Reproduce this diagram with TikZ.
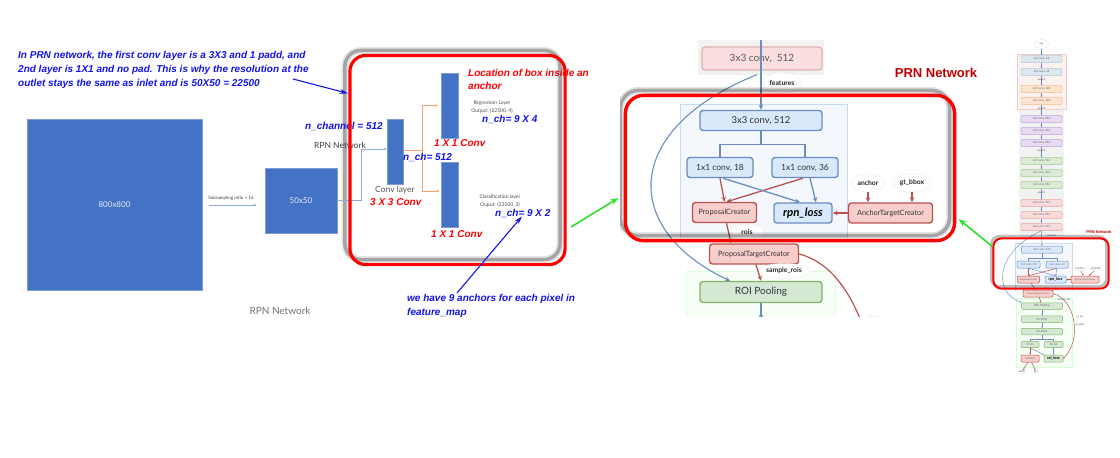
\documentclass[tikz,border=0pt]{standalone}
\usepackage{fontspec}
\setmainfont{Lato}
\newfontfamily\annfont{Liberation Sans}
\usetikzlibrary{arrows.meta,calc,shapes.geometric}

\definecolor{sqblue}{HTML}{4472C4}
\definecolor{annblue}{HTML}{1414E6}
\definecolor{annred}{HTML}{FF0000}
\definecolor{orng}{HTML}{F4A46A}
\definecolor{feedline}{HTML}{8FAADC}
\definecolor{dioRedF}{HTML}{F8CECC}
\definecolor{dioRedD}{HTML}{B85450}
\definecolor{dioBlueF}{HTML}{DAE8FC}
\definecolor{dioBlueD}{HTML}{6C8EBF}
\definecolor{dioGreenF}{HTML}{D5E8D4}
\definecolor{dioGreenD}{HTML}{82B366}
\definecolor{limeg}{HTML}{2EE02E}
\definecolor{prnred}{HTML}{C00000}
\definecolor{paleblue}{HTML}{F4F8FD}
\definecolor{palebluel}{HTML}{C9D9EE}
\definecolor{tbAf}{HTML}{DDE8EE}\definecolor{tbAd}{HTML}{B0CAD8}
\definecolor{tbBf}{HTML}{FCE4CF}\definecolor{tbBd}{HTML}{F0BE94}
\definecolor{tbCf}{HTML}{E8DAF2}\definecolor{tbCd}{HTML}{BFA4D8}
\definecolor{tbDf}{HTML}{DCEBD6}\definecolor{tbDd}{HTML}{A5CC94}
\definecolor{tbEf}{HTML}{F9DCDA}\definecolor{tbEd}{HTML}{E8A8A4}

\begin{document}
\begin{tikzpicture}[x=1pt,y=-1pt,
  note/.style={font=\annfont\bfseries\itshape\fontsize{10}{14}\selectfont, text=annblue, align=left, inner sep=0pt},
  rnote/.style={note, text=annred},
  annarrow/.style={draw=annblue, line width=1.1pt, -{Stealth[length=8pt,width=5pt]}},
  grnarrow/.style={draw=limeg, line width=1.6pt, -{Stealth[length=8pt,width=6pt]}},
  sq/.style={fill=sqblue, draw=sqblue!70!white, line width=0.5pt, text=white!85!sqblue, font=\fontsize{8}{9}\selectfont, inner sep=0pt},
  bar/.style={fill=sqblue, draw=sqblue!70!white, line width=0.4pt, inner sep=0pt},
  redframe/.style={draw=red, line width=3.2pt, rounded corners=16pt, inner sep=0pt},
  shadowA/.style={draw=black, line width=7pt, opacity=0.1},
  shadowB/.style={draw=black, line width=3.5pt, opacity=0.28},
  dbox/.style={rounded corners=3pt, line width=1.4pt, inner sep=0pt, text=black!80},
  bluebox/.style={dbox, fill=dioBlueF, draw=dioBlueD},
  pinkbox/.style={dbox, fill=dioRedF, draw=dioRedD},
  greenbox/.style={dbox, fill=dioGreenF, draw=dioGreenD},
  lbl/.style={ellipse, draw=black!7, fill=white, inner sep=0.5pt, font=\fontsize{6.8}{8}\selectfont\bfseries, text=black!85},
  barrow/.style={draw=dioBlueD, line width=1.3pt, -{Stealth[length=5pt,width=4.5pt]}},
  rarrow/.style={draw=dioRedD, line width=1.3pt, -{Stealth[length=5pt,width=4.5pt]}},
  tb/.style={rounded corners=1pt, line width=0.5pt, inner sep=0pt, minimum height=7pt, minimum width=41pt, font=\fontsize{2.8}{3}\selectfont, text=black!60},
  tbA/.style={fill=tbAf, draw=tbAd}, tbB/.style={fill=tbBf, draw=tbBd},
  tbC/.style={fill=tbCf, draw=tbCd}, tbD/.style={fill=tbDf, draw=tbDd},
  tbE/.style={fill=tbEf, draw=tbEd},
  tbl/.style={tb, fill=dioBlueF, draw=dioBlueD},
  tpk/.style={tb, fill=dioRedF, draw=dioRedD},
  tgr/.style={tb, fill=dioGreenF, draw=dioGreenD},
  tlbl/.style={font=\fontsize{2.5}{3}\selectfont, text=black!70, inner sep=0.3pt},
  tell/.style={tlbl, ellipse, draw=black!10, fill=white},
  tarr/.style={draw=dioBlueD, line width=0.45pt, -{Stealth[length=1.6pt,width=1.6pt]}},
  trarr/.style={draw=dioRedD, line width=0.5pt, -{Stealth[length=1.6pt,width=1.6pt]}},
  tline/.style={draw=dioBlueD, line width=0.45pt}
]
\useasboundingbox (0,0) rectangle (1120,458);
\fill[white] (0,0) rectangle (1120,458);

% ---------------- left: feature map sizes ----------------
\node[sq, minimum width=175pt, minimum height=171pt] (big) at (114.5,204.5) {800x800};
\node[sq, minimum width=72pt, minimum height=65pt] (small) at (301,200.5) {50x50};
\node[font=\fontsize{4.5}{5}\selectfont, text=black!75, inner sep=0pt] (subs) at (231,198) {Subsampling ratio = 16};
\draw[draw=feedline, line width=0.7pt, -{Stealth[length=3pt,width=2.5pt]}]
  ($(big.east)+(7,0.5)$) -- ($(small.west)+(-8,4.5)$);
\node[font=\fontsize{10}{12}\selectfont, text=black!55] (rpnbot) at (280,311) {RPN Network};

% ---------------- middle: RPN head ----------------
\node[redframe, minimum width=212pt, minimum height=206pt, draw=none] (rb1) at (457.5,160) {};
\begin{scope}[rounded corners=16pt]
\draw[shadowA] ($(rb1.north west)+(-5,-5)$) rectangle ($(rb1.south east)+(-5,-5)$);
\draw[shadowB] ($(rb1.north west)+(-5,-5)$) rectangle ($(rb1.south east)+(-5,-5)$);
\end{scope}
\fill[white, rounded corners=14pt] ($(rb1.north west)+(2,2)$) rectangle ($(rb1.south east)+(-9,-9)$);

\node[font=\fontsize{8.5}{10}\selectfont, text=black!75, inner sep=0pt] (rpnin) at (340,145) {RPN Network};
\node[bar, minimum width=16pt, minimum height=65pt] (conv) at (395,151.5) {};
\node[bar, minimum width=17pt, minimum height=65pt] (up) at (449.5,105.5) {};
\node[bar, minimum width=17pt, minimum height=65pt] (low) at (449.5,194.5) {};
\draw[draw=feedline, line width=0.7pt, -{Stealth[length=3pt,width=2.5pt]}]
  (small.east) -- ++(24,0) |- ($(conv.west)+(0,-2.5)$);
\coordinate (jn) at (422,150);
\draw[draw=orng, line width=0.8pt] ($(conv.east)+(0,-1.5)$) -- (jn);
\draw[draw=orng, line width=0.8pt, -{Stealth[length=3pt,width=2.5pt]}, shorten >=3pt] (jn) |- (up.west);
\draw[draw=orng, line width=0.8pt, -{Stealth[length=3pt,width=2.5pt]}, shorten >=1pt] (jn) |- ($(low.west)+(0,-3.5)$);

\node[font=\fontsize{8.5}{10}\selectfont, text=black!65, inner sep=0pt] (convl) at (395,190) {Conv layer};
\node[rnote, anchor=west] (k33) at (370,202) {3 X 3 Conv};
\node[rnote, anchor=west] (k11a) at (434,143) {1 X 1 Conv};
\node[rnote, anchor=west] (k11b) at (431,234) {1 X 1 Conv};
\node[note, anchor=west] (nchan) at (305,126) {n\_channel = 512};
\node[note, anchor=west] (nch512) at (403,157) {n\_ch= 512};
\node[note, anchor=west] (nch94) at (482,119) {n\_ch= 9 X 4};
\node[note, anchor=west] (nch92) at (495,213) {n\_ch= 9 X 2};
\node[font=\fontsize{5}{8}\selectfont, text=black!70, align=center, inner sep=0pt] (regl) at (492,107) {Regression Layer\\Output: (22500, 4)};
\node[font=\fontsize{5}{8}\selectfont, text=black!70, align=center, inner sep=0pt] (clsl) at (500,201) {Classification layer\\Ouput: (22500, 2)};
\node[rnote, anchor=north west, font=\annfont\bfseries\itshape\fontsize{10}{13}\selectfont] (loc) at (468,69.5) {Location of box inside an\\anchor};

\draw[draw=red, line width=3.2pt, rounded corners=16pt] (rb1.north west) rectangle (rb1.south east);

% notes around the RPN head
\node[note, anchor=north west] (n1) at (18,51) {In PRN network, the first conv layer is a 3X3 and 1 padd, and\\2nd layer is 1X1 and no pad. This is why the resolution at the\\outlet stays the same as inlet and is 50X50 = 22500};
\coordinate (a1s) at (293,79);
\draw[annarrow] (a1s) -- ($(rb1.north west)+(-2,38)$);
\node[note, anchor=north west] (n2) at (407,294.5) {we have 9 anchors for each pixel in\\feature\_map};
\coordinate (a2s) at (457,293);
\draw[annarrow] (a2s) -- ($(nch92.south)+(-1,-1)$);

% ---------------- centre: Faster R-CNN detail ----------------
\begin{scope}
\clip (620,40) rectangle (960,316);
\fill[black!5] (698,40) rectangle (824,75);
\node[dbox, fill=dioRedF!65, draw=dioRedD!45, line width=1.2pt, text=black!65, minimum width=120pt, minimum height=23pt, font=\fontsize{10}{12}\selectfont] (topconv) at (762,58.5) {3x3 conv,~~512};
\fill[paleblue] (680,104) rectangle (847,238);
\draw[palebluel, line width=0.8pt] (680,238) -- (680,104) -- (847,104) -- (847,238);
\fill[green!3] (686,271) rectangle (835,330);
\draw[green!14, line width=0.8pt] (686,330) -- (686,271) -- (835,271) -- (835,330);

\node[lbl, minimum width=40pt, minimum height=20pt] (feat) at (782,83) {features};
\node[bluebox, minimum width=122pt, minimum height=20pt, font=\fontsize{9.5}{11}\selectfont] (c512) at (761,120.5) {3x3 conv, 512};
\node[bluebox, minimum width=66pt, minimum height=20pt, font=\fontsize{8.5}{10}\selectfont] (c18) at (720,167.5) {1x1 conv, 18};
\node[bluebox, minimum width=66pt, minimum height=20pt, font=\fontsize{8.5}{10}\selectfont] (c36) at (805,167.5) {1x1 conv, 36};
\node[pinkbox, minimum width=64pt, minimum height=20pt, font=\fontsize{7.3}{9}\selectfont] (pc) at (724.5,212.5) {ProposalCreator};
\node[bluebox, minimum width=58pt, minimum height=20pt, font=\fontsize{11.5}{13}\selectfont\bfseries\itshape, text=black] (rpn) at (803,213) {rpn\_loss};
\node[pinkbox, minimum width=84pt, minimum height=20pt, font=\fontsize{7.3}{9}\selectfont] (atc) at (890.5,213) {AnchorTargetCreator};
\node[lbl, minimum width=34pt, minimum height=18pt] (anc) at (868,183) {anchor};
\node[lbl, minimum width=38pt, minimum height=18pt] (gtb) at (912,183) {gt\_bbox};
\node[lbl, minimum width=34pt, minimum height=15pt] (rois) at (747,232) {rois};
\node[pinkbox, minimum width=89pt, minimum height=20pt, font=\fontsize{7.3}{9}\selectfont] (ptc) at (754,254) {ProposalTargetCreator};
\node[lbl, minimum width=52pt, minimum height=15pt] (srois) at (784,271) {sample\_rois};
\node[greenbox, minimum width=122pt, minimum height=21pt, font=\fontsize{10}{12}\selectfont] (roi) at (761,292) {ROI Pooling};
\node[ellipse, draw=dioBlueD!25, fill=white, minimum width=30pt, minimum height=22pt] (gtl) at (874,327) {};

\coordinate (vtop) at (761,38);
\draw[barrow, line width=1.1pt] (vtop) -- (c512.north);
\draw[draw=dioBlueD, line width=1.2pt] (c512.south) -- ++(0,13) -| (c18.north);
\draw[draw=dioBlueD, line width=1.2pt] (c512.south) -- ++(0,13) -| (c36.north);
\draw[rarrow] (c18.south) -- (pc.north);
\draw[rarrow] ($(c36.south)+(-2,0)$) -- ($(pc.north)+(2,0)$);
\draw[barrow] ($(c18.south)+(3,0)$) -- ($(rpn.north)+(-3,0)$);
\draw[barrow] ($(c36.south)+(5,0)$) -- ($(rpn.north)+(13,0)$);
\draw[rarrow] (anc.south) -- (anc.south |- atc.north);
\draw[rarrow] (gtb.south) -- (gtb.south |- atc.north);
\draw[rarrow] (atc.west) -- (rpn.east);
\draw[rarrow] ($(pc.south)+(2,0)$) -- ($(ptc.north)+(-23,0)$);
\draw[rarrow] ($(ptc.south)+(2,0)$) -- (roi.north);
\coordinate (roiout) at (761,320);
\draw[barrow] (roi.south) -- (roiout);
\draw[barrow, line width=1.1pt] ($(topconv.south)+(-5,4)$) .. controls (620,130) and (622,230) .. ($(roi.north)+(-31,0)$);
\coordinate (ptcout) at (866,335);
\draw[draw=dioRedD, line width=1.2pt] (ptc.east) .. controls (830,262) and (852,292) .. (ptcout);

\node[redframe, minimum width=326pt, minimum height=142pt, rounded corners=18pt, draw=none] (rb2) at (790,168) {};
\begin{scope}[rounded corners=18pt]
\draw[shadowA] ($(rb2.north west)+(-5,-5)$) rectangle ($(rb2.south east)+(-5,-5)$);
\draw[shadowB] ($(rb2.north west)+(-5,-5)$) rectangle ($(rb2.south east)+(-5,-5)$);
\end{scope}
\draw[draw=red, line width=3.4pt, rounded corners=18pt] (rb2.north west) rectangle (rb2.south east);
\end{scope}

\node[font=\annfont\bfseries\fontsize{13}{15}\selectfont, text=prnred] (prn) at (936,73) {PRN Network};

% ---------------- right: whole network thumbnail ----------------
\fill[black!5] (1019,54) rectangle (1064,236);
\draw[fill=tbEf!40, draw=tbEd!60, line width=0.5pt] (1017,54) rectangle (1066,109);
\node[tell, minimum width=14pt, minimum height=9pt] (img) at (1041.5,44) {img};
\foreach \n/\y/\c/\t in {t1/59/tbA/64, t2/72/tbA/64, t3/89/tbB/128, t4/101/tbB/128,
    t5/119/tbC/256, t6/131/tbC/256, t7/143/tbC/256, t8/161/tbD/512, t9/173/tbD/512,
    t10/185/tbD/512, t11/203/tbE/512, t12/215/tbE/512, t13/227/tbE/512}
  \node[tb,\c] (\n) at (1041.5,\y) {3x3 conv, \t};
\foreach \a/\b in {img/t1, t1/t2, t2/t3, t3/t4, t4/t5, t5/t6, t6/t7, t7/t8, t8/t9, t9/t10, t10/t11, t11/t12, t12/t13}
  \draw[tarr] (\a) -- (\b);
\foreach \n/\y in {p1/80, p2/109, p3/151, p4/193}
  \node[tlbl] (\n) at (1041.5,\y) {pool/2};
\node[tlbl] (tfeat) at (1052,235.5) {features};
\node[font=\annfont\bfseries\fontsize{4}{5}\selectfont, text=prnred, inner sep=0pt] (tprn) at (1099,232) {PRN Network};

\fill[paleblue] (1015,243) rectangle (1072,291);
\draw[palebluel, line width=0.4pt] (1015,291) -- (1015,243) -- (1072,243) -- (1072,291);
\fill[green!3] (1016,298) rectangle (1072,367);
\draw[green!18, line width=0.4pt] (1016,298) rectangle (1072,367);

\node[tbl] (u512) at (1042,249.5) {3x3 conv, 512};
\node[tbl, minimum width=23pt] (u18) at (1028.5,264.5) {1x1 conv, 18};
\node[tbl, minimum width=22pt] (u36) at (1057,264.5) {1x1 conv, 36};
\node[tpk, minimum width=22pt, font=\fontsize{2.4}{3}\selectfont] (upc) at (1028.5,279.5) {ProposalCreator};
\node[tbl, minimum width=21pt, font=\fontsize{4}{5}\selectfont\bfseries\itshape, text=black] (urpn) at (1055.5,279.5) {rpn\_loss};
\node[tpk, minimum width=28pt, font=\fontsize{2.2}{3}\selectfont] (uatc) at (1085,279.5) {AnchorTargetCreator};
\node[tell] (tanc) at (1080,269) {anchor};
\node[tell] (tgt) at (1096,269) {gt\_bbox};
\node[tlbl] (trois) at (1047,289) {rois};
\node[tpk, minimum width=30pt, font=\fontsize{2.2}{3}\selectfont] (uptc) at (1038,293.5) {ProposalTargetCreator};
\node[tlbl] (tsr) at (1064,299.5) {sample\_rois};
\node[tgr, minimum height=6.5pt, font=\fontsize{3}{3}\selectfont] (uroi) at (1042,306) {ROI Pooling};
\node[tgr, minimum height=6.5pt] (fc1) at (1042,319) {FC 4096};
\node[tgr, minimum height=6.5pt] (fc2) at (1042,331.5) {FC 4096};
\node[tgr, minimum width=18pt, minimum height=6pt] (fc21) at (1030,344.5) {FC 21};
\node[tgr, minimum width=19pt, minimum height=6pt] (fc84) at (1053.5,344.5) {FC 84};
\node[tpk, minimum width=18pt] (sm) at (1030,358.5) {softmax};
\node[tgr, minimum width=19pt, font=\fontsize{4}{5}\selectfont\bfseries\itshape, text=black] (rl) at (1053.5,358.5) {roi\_loss};
\node[tell] (tlab) at (1022,372) {label};
\node[tell] (tloc) at (1036,372) {loc};
\node[tlbl] (tgtloc) at (1080,317) {gt\_loc};
\node[tlbl] (tgtlab) at (1080,325) {gt\_label};

\draw[tarr] (t13) -- (u512);
\draw[tline] (u512.south) -- ++(0,5) -| (u18.north);
\draw[tline] (u512.south) -- ++(0,5) -| (u36.north);
\draw[trarr] (u18) -- (upc);
\draw[trarr] (u36.south) -- (upc.north);
\draw[tarr] (u18.south) -- (urpn.north);
\draw[tarr] (u36) -- (urpn);
\draw[trarr] (tanc) -- (uatc);
\draw[trarr] (tgt) -- (uatc);
\draw[trarr] (uatc) -- (urpn);
\draw[trarr] (upc) -- (uptc);
\draw[trarr] (uptc) -- (uroi);
\draw[tarr] (uroi) -- (fc1);
\draw[tarr] (fc1) -- (fc2);
\draw[tline] (fc2.south) -- ++(0,4) -| (fc21.north);
\draw[tline] (fc2.south) -- ++(0,4) -| (fc84.north);
\draw[trarr] (fc21) -- (sm);
\draw[tarr] (fc84) -- (rl);
\draw[tarr] (fc21.south) -- (rl.north west);
\draw[trarr] (sm) -- (tlab);
\draw[trarr] (sm) -- (tloc);
\draw[tarr] (t13.south) .. controls (995,252) and (993,292) .. (uroi.north west);
\draw[trarr] (uptc.east) .. controls (1076,300) and (1082,340) .. (rl.east);

\node[redframe, minimum width=112pt, minimum height=47pt, draw=none] (trb) at (1051,263.5) {};
\draw[draw=black, line width=3pt, rounded corners=8pt, opacity=0.25] ($(trb.north west)+(-2,-2)$) rectangle ($(trb.south east)+(-2,-2)$);
\draw[draw=red, line width=2pt, rounded corners=8pt] (trb.north west) rectangle (trb.south east);

% ---------------- green pointers ----------------
\coordinate (g1s) at (571,227);
\draw[grnarrow] (g1s) -- ($(rb2.west)+(-7,30)$);
\draw[grnarrow] ($(trb.west)+(-1,-17)$) -- ($(rb2.east)+(4,51)$);
\end{tikzpicture}
\end{document}
